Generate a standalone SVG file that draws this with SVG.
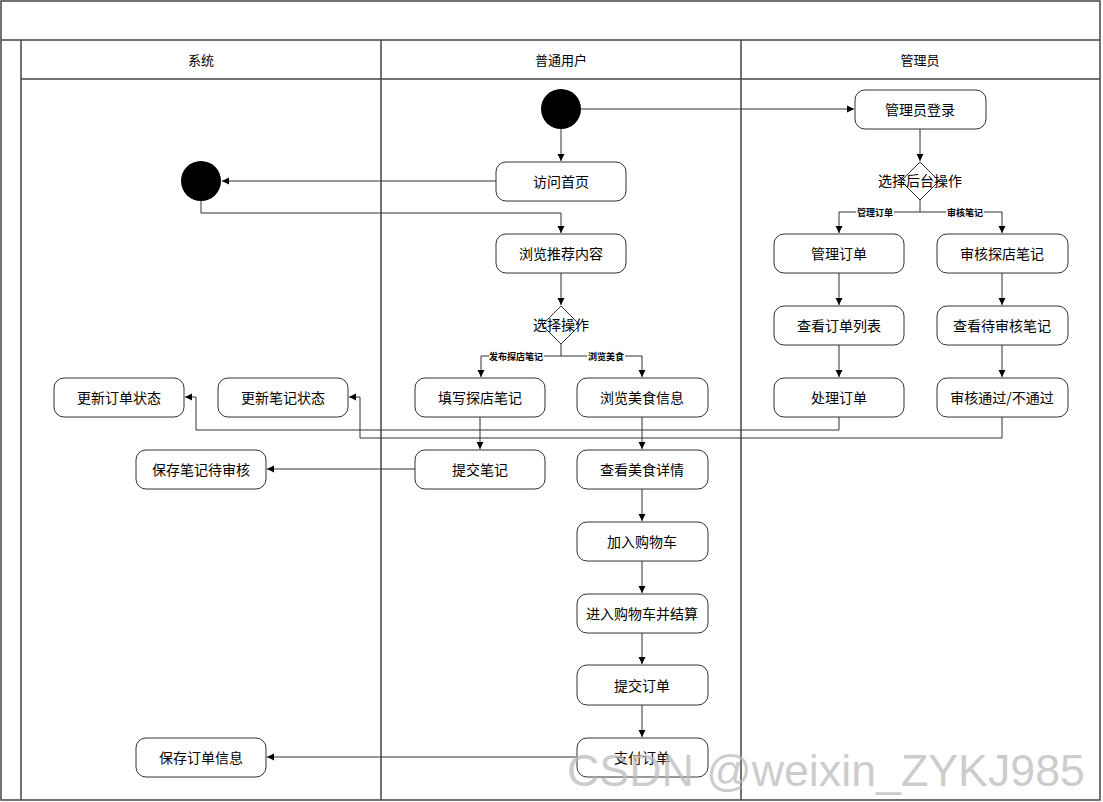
<svg xmlns="http://www.w3.org/2000/svg" width="1103" height="802" viewBox="0 0 1103 802">
<style>
.lane{fill:none;stroke:#444;stroke-width:1.5}
.box{fill:#fff;stroke:#333;stroke-width:1}
.t{font-family:"Noto Sans CJK SC","Liberation Sans",sans-serif;font-size:14px;fill:#000;text-anchor:middle;dominant-baseline:central}
.h{font-family:"Noto Sans CJK SC","Liberation Sans",sans-serif;font-size:13px;fill:#000;text-anchor:middle;dominant-baseline:central}
.lb{font-family:"Noto Sans CJK SC","Liberation Sans",sans-serif;font-size:9px;font-weight:bold;fill:#000;text-anchor:middle;dominant-baseline:central}
.c{fill:none;stroke:#333;stroke-width:1}
.wm{font-family:"Liberation Sans","Noto Sans",sans-serif;font-size:45px;fill:#bbb;fill-opacity:0.75}
</style>
<defs>
<marker id="a" markerWidth="8" markerHeight="8" refX="7" refY="4" orient="auto" markerUnits="userSpaceOnUse">
<path d="M0,0.5 L7,4 L0,7.5 Z" fill="#000"/>
</marker>
</defs>
<rect width="1103" height="802" fill="#fff"/>
<g id="pool">
<rect class="lane" x="1" y="1" width="1099" height="799"/>
<line class="lane" x1="1" y1="40" x2="1100" y2="40"/>
<line class="lane" x1="21" y1="40" x2="21" y2="800"/>
<line class="lane" x1="21" y1="79" x2="1100" y2="79"/>
<line class="lane" x1="381" y1="40" x2="381" y2="800"/>
<line class="lane" x1="741" y1="40" x2="741" y2="800"/>
<text class="h" x="201" y="59">系统</text>
<text class="h" x="561" y="59">普通用户</text>
<text class="h" x="920" y="59">管理员</text>
</g>
<g id="connectors">
<path class="c" d="M581,109 H854" marker-end="url(#a)"/>
<path class="c" d="M561,129 V161" marker-end="url(#a)"/>
<path class="c" d="M496,181 H222" marker-end="url(#a)"/>
<path class="c" d="M201,201 V213 H561 V233" marker-end="url(#a)"/>
<path class="c" d="M561,273 V305" marker-end="url(#a)"/>
<path class="c" d="M561,344 V356 H481 V377" marker-end="url(#a)"/>
<path class="c" d="M561,356 H642 V377" marker-end="url(#a)"/>
<path class="c" d="M480,417 V449" marker-end="url(#a)"/>
<path class="c" d="M642,417 V449" marker-end="url(#a)"/>
<path class="c" d="M642,489 V521" marker-end="url(#a)"/>
<path class="c" d="M642,561 V593" marker-end="url(#a)"/>
<path class="c" d="M642,633 V664" marker-end="url(#a)"/>
<path class="c" d="M642,705 V737" marker-end="url(#a)"/>
<path class="c" d="M415,469 H267" marker-end="url(#a)"/>
<path class="c" d="M577,757 H267" marker-end="url(#a)"/>
<path class="c" d="M920,129 V161" marker-end="url(#a)"/>
<path class="c" d="M920,200 V212 H839 V233" marker-end="url(#a)"/>
<path class="c" d="M920,212 H1002 V233" marker-end="url(#a)"/>
<path class="c" d="M839,273 V305" marker-end="url(#a)"/>
<path class="c" d="M839,345 V377" marker-end="url(#a)"/>
<path class="c" d="M1002,273 V305" marker-end="url(#a)"/>
<path class="c" d="M1002,345 V377" marker-end="url(#a)"/>
<path class="c" d="M839,417 V430 H196 V397 H185" marker-end="url(#a)"/>
<path class="c" d="M1002,417 V438 H360 V397 H349" marker-end="url(#a)"/>
<rect x="489" y="350" width="55" height="12" fill="#fff"/>
<text class="lb" x="516" y="356">发布探店笔记</text>
<rect x="587" y="350" width="38" height="12" fill="#fff"/>
<text class="lb" x="606" y="356">浏览美食</text>
<rect x="856" y="206" width="38" height="12" fill="#fff"/>
<text class="lb" x="875" y="212">管理订单</text>
<rect x="946" y="206" width="38" height="12" fill="#fff"/>
<text class="lb" x="965" y="212">审核笔记</text>
</g>
<g id="start"><circle cx="561" cy="109" r="20" fill="#000"/></g>
<g id="end"><circle cx="201" cy="181" r="20" fill="#000"/></g>
<g id="visit"><rect class="box" x="496" y="162" width="130" height="39" rx="10"/><text class="t" x="561" y="181">访问首页</text></g>
<g id="browse"><rect class="box" x="496" y="234" width="130" height="39" rx="10"/><text class="t" x="561" y="253">浏览推荐内容</text></g>
<g id="choose"><path class="box" d="M561,306 L580,325 L561,344 L542,325 Z"/><text class="t" x="561" y="324">选择操作</text></g>
<g id="writeNote"><rect class="box" x="415" y="378" width="130" height="39" rx="10"/><text class="t" x="480" y="397">填写探店笔记</text></g>
<g id="browseFood"><rect class="box" x="577" y="378" width="131" height="39" rx="10"/><text class="t" x="642" y="397">浏览美食信息</text></g>
<g id="submitNote"><rect class="box" x="415" y="450" width="130" height="39" rx="10"/><text class="t" x="480" y="469">提交笔记</text></g>
<g id="foodDetail"><rect class="box" x="577" y="450" width="131" height="39" rx="10"/><text class="t" x="642" y="469">查看美食详情</text></g>
<g id="addCart"><rect class="box" x="577" y="522" width="131" height="39" rx="10"/><text class="t" x="642" y="541">加入购物车</text></g>
<g id="checkout"><rect class="box" x="577" y="594" width="131" height="39" rx="10"/><text class="t" x="642" y="613">进入购物车并结算</text></g>
<g id="submitOrder"><rect class="box" x="577" y="665" width="131" height="40" rx="10"/><text class="t" x="642" y="685">提交订单</text></g>
<g id="payOrder"><rect class="box" x="577" y="738" width="131" height="39" rx="10"/><text class="t" x="642" y="757">支付订单</text></g>
<g id="saveNote"><rect class="box" x="136" y="450" width="130" height="39" rx="10"/><text class="t" x="201" y="469">保存笔记待审核</text></g>
<g id="saveOrder"><rect class="box" x="136" y="738" width="130" height="39" rx="10"/><text class="t" x="201" y="757">保存订单信息</text></g>
<g id="updateOrder"><rect class="box" x="54" y="378" width="130" height="39" rx="10"/><text class="t" x="119" y="397">更新订单状态</text></g>
<g id="updateNote"><rect class="box" x="218" y="378" width="130" height="39" rx="10"/><text class="t" x="283" y="397">更新笔记状态</text></g>
<g id="adminLogin"><rect class="box" x="855" y="90" width="131" height="39" rx="10"/><text class="t" x="920" y="109">管理员登录</text></g>
<g id="adminChoose"><path class="box" d="M920,162 L939,181 L920,200 L901,181 Z"/><text class="t" x="920" y="180">选择后台操作</text></g>
<g id="manageOrder"><rect class="box" x="774" y="234" width="130" height="39" rx="10"/><text class="t" x="839" y="253">管理订单</text></g>
<g id="reviewNote"><rect class="box" x="937" y="234" width="131" height="39" rx="10"/><text class="t" x="1002" y="253">审核探店笔记</text></g>
<g id="orderList"><rect class="box" x="774" y="306" width="130" height="39" rx="10"/><text class="t" x="839" y="325">查看订单列表</text></g>
<g id="pendingNotes"><rect class="box" x="937" y="306" width="131" height="39" rx="10"/><text class="t" x="1002" y="325">查看待审核笔记</text></g>
<g id="handleOrder"><rect class="box" x="774" y="378" width="130" height="39" rx="10"/><text class="t" x="839" y="397">处理订单</text></g>
<g id="approve"><rect class="box" x="937" y="378" width="131" height="39" rx="10"/><text class="t" x="1002" y="397">审核通过/不通过</text></g>
<text class="wm" x="567" y="786" textLength="518" lengthAdjust="spacingAndGlyphs">CSDN @weixin_ZYKJ985</text>
</svg>
